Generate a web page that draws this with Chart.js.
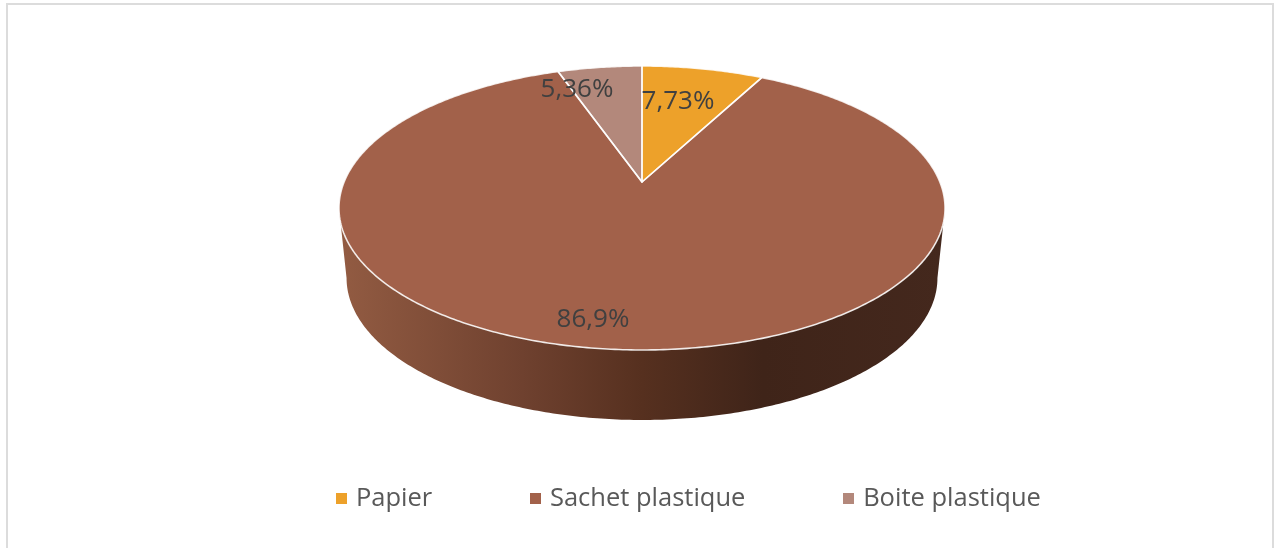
<!DOCTYPE html>
<html><head><meta charset="utf-8">
<style>
html,body{margin:0;padding:0;background:#fff;overflow:hidden}
#wrap{position:relative;width:1276px;height:548px}
#frame{position:absolute;left:6px;top:3px;width:1264px;height:560px;border:2px solid #dcdcdc}
canvas{position:absolute;left:0;top:0}
</style>
<script src="https://cdn.jsdelivr.net/npm/chart.js@4/dist/chart.umd.min.js"></script>
</head><body>
<div id="wrap"><div id="frame"></div><canvas id="c" width="1276" height="548"></canvas></div>
<script>
const categories = ["Papier", "Sachet plastique", "Boite plastique"];
const values = [7.73, 86.9, 5.36];
const valueLabels = ["7,73%", "86,9%", "5,36%"];
const colors = ["#eda12a", "#a2614a", "#b3887b"];

// Perspective of the tilted disc: unit circle -> screen
const VIEW = {cx: 642, cy: 182, a: 297.9, b: 103.9, k: -0.1831};
const DEPTH = {dy: 70, scale: 0.975};
const LABEL_AT = [[678, 102], [593, 320], [577, 90]];

function project(angle, r) {
  const u = Math.cos(angle) * r, v = Math.sin(angle) * r;
  const d = 1 + VIEW.k * v;
  return {x: VIEW.cx + VIEW.a * u / d, y: (VIEW.b * v + VIEW.cy) / d};
}
function discPath(ctx, start, end, apex) {
  ctx.beginPath();
  if (apex) { const c = project(0, 0); ctx.moveTo(c.x, c.y); }
  const n = Math.max(8, Math.ceil((end - start) * 90));
  for (let i = 0; i <= n; i++) {
    const p = project(start + (end - start) * i / n, 1);
    ctx.lineTo(p.x, p.y);
  }
  ctx.closePath();
}
function legendSwatch(color) {
  const s = document.createElement("canvas");
  s.width = 11; s.height = 11;
  const c = s.getContext("2d");
  c.fillStyle = color;
  c.fillRect(0, 0, 11, 11);
  return s;
}
const tiltedPie = {
  id: "tiltedPie",
  beforeDatasetDraw(chart, args) {
    const ctx = chart.ctx, arcs = chart.getDatasetMeta(args.index).data;
    const g = ctx.createLinearGradient(342, 0, 943, 0);
    g.addColorStop(0, "#925b42");
    g.addColorStop(0.3, "#6f412f");
    g.addColorStop(0.5, "#56301f");
    g.addColorStop(0.7, "#3f2419");
    g.addColorStop(1, "#44281d");
    // side wall: the lower half of the disc swept downward
    ctx.save();
    ctx.fillStyle = g;
    ctx.beginPath();
    const n = 240;
    const t0 = 0.184, t1 = Math.PI - 0.184;
    for (let i = 0; i <= n; i++) {
      const p = project(t0 + (t1 - t0) * i / n, 1);
      ctx.lineTo(p.x, p.y);
    }
    for (let i = n; i >= 0; i--) {
      const p = project(t0 + (t1 - t0) * i / n, 1);
      ctx.lineTo(VIEW.cx + (p.x - VIEW.cx) * DEPTH.scale, p.y + DEPTH.dy);
    }
    ctx.closePath();
    ctx.fill();
    // top face, from the controller's own arc angles
    arcs.forEach((arc, i) => {
      discPath(ctx, arc.startAngle, arc.endAngle, true);
      ctx.fillStyle = colors[i];
      ctx.fill();
    });
    ctx.strokeStyle = "rgba(255,255,255,0.85)";
    ctx.lineWidth = 1.6;
    ctx.lineJoin = "round";
    arcs.forEach(arc => { discPath(ctx, arc.startAngle, arc.endAngle, true); ctx.stroke(); });
    // value labels
    ctx.font = "26px 'Open Sans'";
    ctx.fillStyle = "#404040";
    ctx.textAlign = "center";
    ctx.textBaseline = "middle";
    valueLabels.forEach((t, i) => ctx.fillText(t, LABEL_AT[i][0], LABEL_AT[i][1]));
    ctx.restore();
    return false;
  }
};

new Chart(document.getElementById("c"), {
  type: "pie",
  data: {labels: categories, datasets: [{data: values, backgroundColor: colors, borderColor: "#fff", borderWidth: 0}]},
  plugins: [tiltedPie],
  options: {
    responsive: false,
    animation: false,
    layout: {padding: {left: 104, bottom: 27}},
    plugins: {
      tooltip: {enabled: false},
      legend: {
        position: "bottom",
        labels: {
          usePointStyle: true,
          pointStyleWidth: 4,
          padding: 101,
          color: "#595959",
          font: {family: "'Open Sans'", size: 25.5},
          generateLabels: chart => categories.map((text, i) => ({
            text, index: i, fontColor: "#595959", fillStyle: colors[i], strokeStyle: colors[i],
            lineWidth: 0, pointStyle: legendSwatch(colors[i])
          }))
        }
      }
    }
  }
});
</script>
</body></html>
